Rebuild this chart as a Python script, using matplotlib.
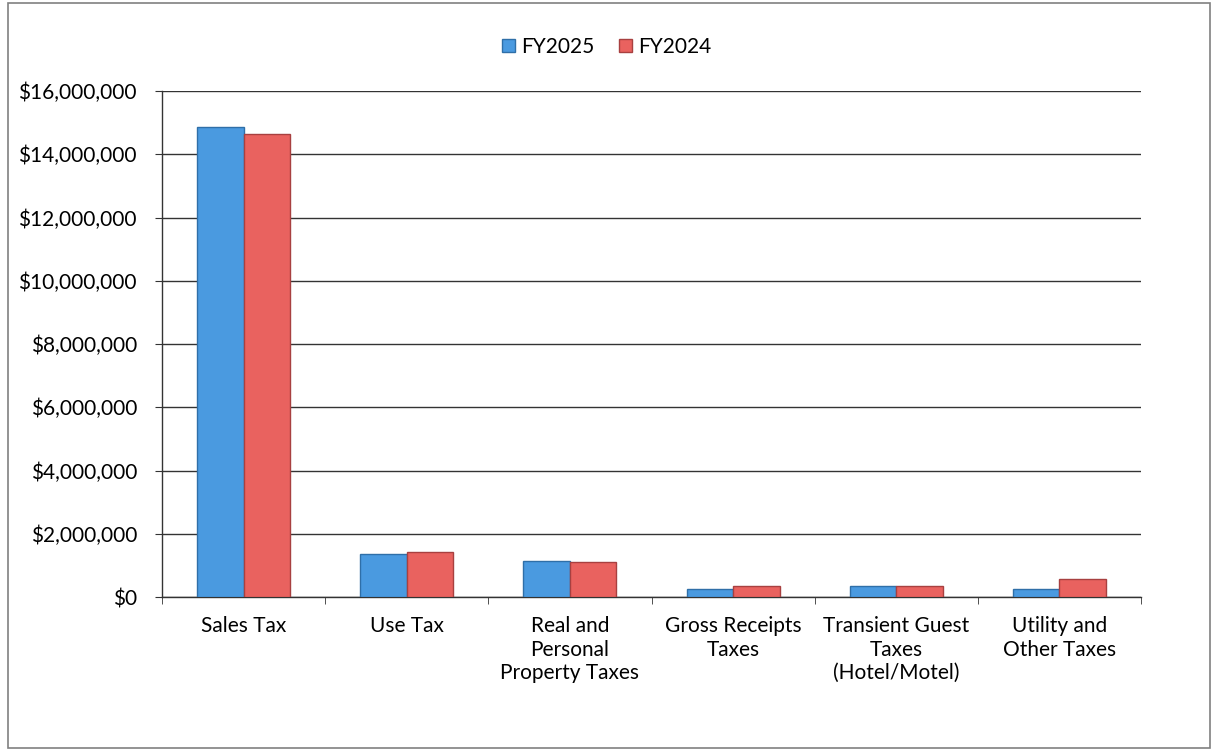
import numpy as np
import matplotlib
matplotlib.use("Agg")
import matplotlib.pyplot as plt
from matplotlib.patches import Rectangle
from matplotlib.ticker import FuncFormatter, MultipleLocator

categories = ["Sales Tax", "Use Tax", "Real and\nPersonal\nProperty Taxes",
              "Gross Receipts\nTaxes", "Transient Guest\nTaxes\n(Hotel/Motel)",
              "Utility and\nOther Taxes"]
fy2025 = [14860000, 1360000, 1140000, 250000, 350000, 250000]
fy2024 = [14640000, 1420000, 1110000, 350000, 340000, 570000]

plt.rcParams["font.family"] = ["Lato", "DejaVu Sans"]

fig = plt.figure(figsize=(12.13, 7.51), dpi=100)
ax = fig.add_axes([162 / 1213, 1 - 597 / 751, (1141 - 162) / 1213, (597 - 91) / 751])

# outer chart frame
fig.patches.append(Rectangle((8 / 1213, 3 / 751), 1202 / 1213, 745 / 751,
                             transform=fig.transFigure, fill=False,
                             edgecolor="#808080", linewidth=1.2))

x = np.arange(len(categories))
w = 0.285
ax.bar(x - w / 2, fy2025, w, color="#4a9ae0", edgecolor="#2f6fa8",
       linewidth=1.0, label="FY2025", zorder=3)
ax.bar(x + w / 2, fy2024, w, color="#e9625f", edgecolor="#a84040",
       linewidth=1.0, label="FY2024", zorder=3)

ax.set_xlim(-0.5, len(categories) - 0.5)
ax.set_ylim(0, 16000000)
ax.yaxis.set_major_locator(MultipleLocator(2000000))
ax.yaxis.set_major_formatter(FuncFormatter(lambda v, p: f"${v:,.0f}"))
ax.grid(axis="y", color="#333333", linewidth=1.0, zorder=0)

ax.set_xticks(x)
ax.set_xticklabels(categories, fontsize=15, linespacing=1.2)
ax.set_xticks(np.arange(-0.5, len(categories)), minor=True)
ax.tick_params(axis="x", which="major", length=0, pad=14)
ax.tick_params(axis="x", which="minor", length=5, color="#333333", direction="out")
ax.tick_params(axis="y", length=5, color="#333333", labelsize=15, pad=13)

for side in ["top", "right"]:
    ax.spines[side].set_visible(False)
for side in ["left", "bottom"]:
    ax.spines[side].set_color("#333333")
    ax.spines[side].set_linewidth(1.0)

fig.legend(loc="center", bbox_to_anchor=(0.5, 1 - 47 / 751), ncol=2, frameon=False,
           fontsize=15, handlelength=0.6, handleheight=0.6, handletextpad=0.3,
           columnspacing=1.2)

fig.savefig("out.png", dpi=100)
